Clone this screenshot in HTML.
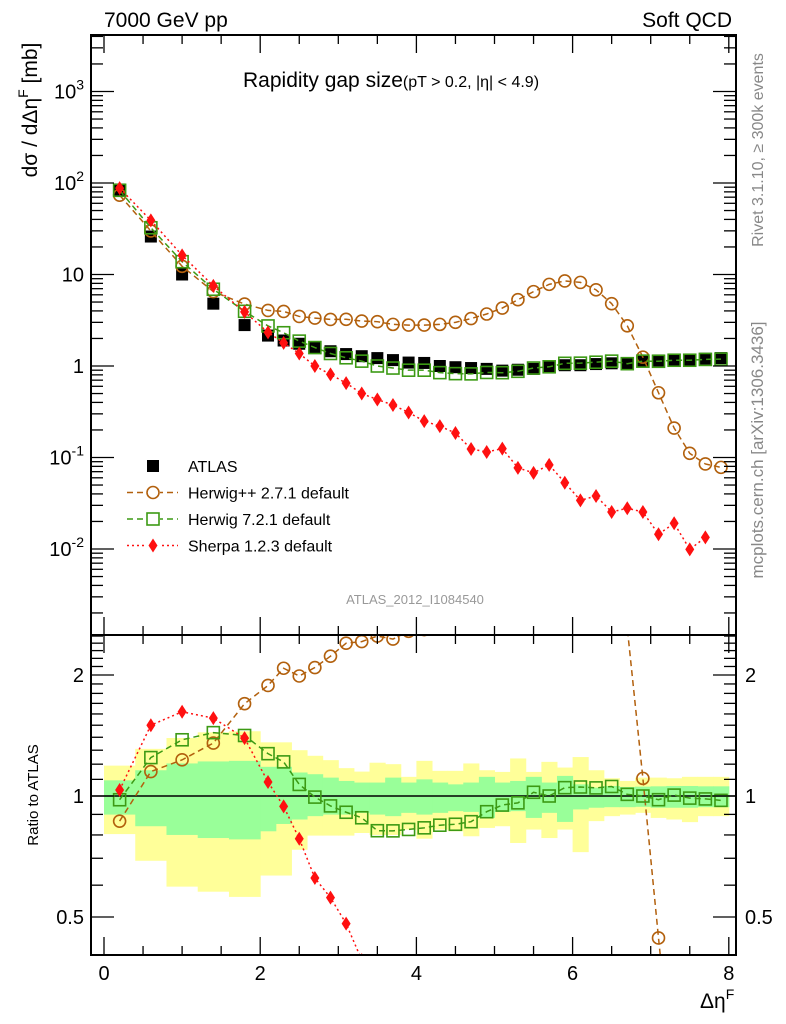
<!DOCTYPE html>
<html><head><meta charset="utf-8"><style>
html,body{margin:0;background:#fff;overflow:hidden;width:786px;height:1024px;}
svg{display:block;font-family:"Liberation Sans",sans-serif;}
</style></head><body>
<svg id="chart" width="786" height="1024" viewBox="0 0 786 1024" xmlns="http://www.w3.org/2000/svg">
<defs>
<clipPath id="clipMain"><rect x="91" y="35" width="645" height="600"/></clipPath>
<clipPath id="clipRatio"><rect x="91" y="635" width="645" height="320"/></clipPath>
</defs>
<g id="bands" clip-path="url(#clipRatio)"></g>
<g id="series"></g>
<g id="axes"></g>
<text x="104" y="27" font-size="21">7000 GeV pp</text>
<text x="732" y="27" font-size="21" text-anchor="end">Soft QCD</text>
<text x="243" y="87" font-size="21">Rapidity gap size<tspan font-size="16">(pT &gt; 0.2, |η| &lt; 4.9)</tspan></text>
<text x="415" y="604" font-size="13" fill="#999" text-anchor="middle">ATLAS_2012_I1084540</text>
<text transform="translate(763,150) rotate(-90)" font-size="16" fill="#888" text-anchor="middle">Rivet 3.1.10, ≥ 300k events</text>
<text transform="translate(763,450) rotate(-90)" font-size="17" fill="#888" text-anchor="middle">mcplots.cern.ch [arXiv:1306.3436]</text>
<text transform="translate(37,110) rotate(-90)" font-size="21" text-anchor="middle">dσ / dΔη<tspan font-size="14" dy="-9">F</tspan><tspan dy="9"> [mb]</tspan></text>
<text transform="translate(38,795) rotate(-90)" font-size="15" text-anchor="middle">Ratio to ATLAS</text>
<text x="700" y="1008" font-size="21">Δη<tspan font-size="14" dy="-9">F</tspan></text>
<g id="legend"></g>
</svg>
<script>
const xs = [0.2,0.6,1.0,1.4,1.8,2.1,2.3,2.5,2.7,2.9,3.1,3.3,3.5,3.7,3.9,4.1,4.3,4.5,4.7,4.9,5.1,5.3,5.5,5.7,5.9,6.1,6.3,6.5,6.7,6.9,7.1,7.3,7.5,7.7,7.9];
const binLo = [0,0.4,0.8,1.2,1.6,2.0,2.2,2.4,2.6,2.8,3.0,3.2,3.4,3.6,3.8,4.0,4.2,4.4,4.6,4.8,5.0,5.2,5.4,5.6,5.8,6.0,6.2,6.4,6.6,6.8,7.0,7.2,7.4,7.6,7.8];
const binHi = [0.4,0.8,1.2,1.6,2.0,2.2,2.4,2.6,2.8,3.0,3.2,3.4,3.6,3.8,4.0,4.2,4.4,4.6,4.8,5.0,5.2,5.4,5.6,5.8,6.0,6.2,6.4,6.6,6.8,7.0,7.2,7.4,7.6,7.8,8.0];
const atlas = [85,26,10,4.8,2.8,2.15,1.9,1.75,1.6,1.45,1.35,1.28,1.22,1.16,1.09,1.08,1.0,0.97,0.95,0.93,0.89,0.91,0.93,0.98,1.02,1.02,1.05,1.07,1.05,1.13,1.15,1.15,1.17,1.2,1.22];
const herwigpp = [73.6,29.9,12.3,6.5,4.75,4.05,3.95,3.48,3.34,3.23,3.24,3.1,3.05,2.85,2.8,2.8,2.85,3.0,3.3,3.7,4.3,5.3,6.5,7.8,8.5,8.2,6.8,4.8,2.75,1.25,0.51,0.21,0.111,0.085,0.078];
const herwig7 = [83.2,32.4,13.8,6.9,3.96,2.74,2.31,1.87,1.59,1.37,1.23,1.13,1.0,0.95,0.9,0.9,0.846,0.825,0.82,0.85,0.845,0.875,0.95,0.98,1.07,1.074,1.1,1.13,1.06,1.13,1.126,1.156,1.156,1.18,1.19];
const sherpa = [88,39,16.2,7.5,3.9,2.33,1.79,1.37,1.0,0.81,0.65,0.5,0.43,0.375,0.31,0.25,0.22,0.185,0.124,0.115,0.125,0.077,0.068,0.083,0.053,0.034,0.038,0.0254,0.0279,0.0254,0.0145,0.0191,0.0099,0.0134,null];
const yelHi = [1.19,1.31,1.394,1.44,1.449,1.36,1.36,1.30,1.259,1.228,1.173,1.15,1.21,1.20,1.116,1.223,1.155,1.155,1.205,1.159,1.148,1.24,1.148,1.216,1.177,1.25,1.159,1.107,1.09,1.111,1.111,1.107,1.116,1.116,1.116];
const yelLo = [0.804,0.69,0.595,0.578,0.561,0.634,0.634,0.735,0.797,0.797,0.797,0.809,0.80,0.80,0.825,0.783,0.825,0.817,0.794,0.833,0.841,0.764,0.825,0.786,0.825,0.725,0.866,0.891,0.899,0.908,0.882,0.874,0.861,0.891,0.891];
const grnHi = [1.094,1.159,1.205,1.219,1.223,1.182,1.182,1.144,1.133,1.111,1.09,1.08,1.08,1.111,1.08,1.10,1.08,1.069,1.08,1.116,1.08,1.09,1.116,1.08,1.122,1.069,1.049,1.059,1.053,1.055,1.057,1.059,1.059,1.057,1.057];
const grnLo = [0.899,0.841,0.80,0.786,0.78,0.817,0.852,0.874,0.891,0.899,0.899,0.908,0.899,0.891,0.908,0.899,0.908,0.917,0.913,0.882,0.913,0.917,0.882,0.908,0.862,0.926,0.935,0.938,0.938,0.94,0.935,0.935,0.935,0.938,0.938];
const xTickLabels = ["0","2","4","6","8"];
const yTickLabels = ["10^-2","10^-1","1","10","10^2","10^3"];
const ratioTickLabels = ["0.5","1","2"];

const NS="http://www.w3.org/2000/svg";
const X0=91,X1=736,YT=35,YM=635,YB=955;
function xp(v){return 104+78.1*v;}
function yMain(v){return 366-91.5*Math.log10(v);}
function yRat(r){return 796-121*Math.log2(r);}
function mk(tag,attrs,parent){const e=document.createElementNS(NS,tag);for(const k in attrs)e.setAttribute(k,attrs[k]);parent.appendChild(e);return e;}
const bandsG=document.getElementById('bands'),seriesG=document.getElementById('series'),axesG=document.getElementById('axes'),legG=document.getElementById('legend');

xs.forEach((x,i)=>{
  const y1=mk('rect',{x:xp(binLo[i]),y:yRat(yelHi[i]),width:xp(binHi[i])-xp(binLo[i])+0.5,height:yRat(yelLo[i])-yRat(yelHi[i]),fill:'#ffff99'},bandsG);
  
  
});
xs.forEach((x,i)=>{
  const g1=mk('rect',{x:xp(binLo[i]),y:yRat(grnHi[i]),width:xp(binHi[i])-xp(binLo[i])+0.5,height:yRat(grnLo[i])-yRat(grnHi[i]),fill:'#99ff99'},bandsG);
  
  
});
const one=mk('line',{x1:X0,x2:X1,y1:yRat(1),y2:yRat(1),stroke:'#000','stroke-width':1.5},bandsG);



function marker(g,type,cx,cy,color){
  let e;
  if(type==='circle')e=mk('circle',{cx:cx,cy:cy,r:6,fill:'none',stroke:color,'stroke-width':1.6},g);
  else if(type==='osq')e=mk('rect',{x:cx-6,y:cy-6,width:12,height:12,fill:'none',stroke:color,'stroke-width':1.6},g);
  else if(type==='diam')e=mk('polygon',{points:`${cx},${cy-7} ${cx+4.5},${cy} ${cx},${cy+7} ${cx-4.5},${cy}`,fill:color},g);
  else e=mk('rect',{x:cx-6,y:cy-6,width:12,height:12,fill:color},g);
  return e;
}
function drawSeries(name,vals,color,dash,type,ratioOnly){
  const gm=mk('g',{'clip-path':'url(#clipMain)'},seriesG);
  
  
  const gr=mk('g',{'clip-path':'url(#clipRatio)'},seriesG);
  
  
  const pm=[],pr=[];
  xs.forEach((x,i)=>{if(vals[i]!=null){pm.push([xp(x),yMain(vals[i])]);pr.push([xp(x),yRat(vals[i]/atlas[i])]);}});
  if(dash){
    const l1=mk('polyline',{points:pm.map(p=>p.join(',')).join(' '),fill:'none',stroke:color,'stroke-width':1.5,'stroke-dasharray':dash},gm);
    
    
    const l2=mk('polyline',{points:pr.map(p=>p.join(',')).join(' '),fill:'none',stroke:color,'stroke-width':1.5,'stroke-dasharray':dash},gr);
    
    
  }
  pm.forEach(p=>{const m=marker(gm,type,p[0],p[1],color);
    
    });
  if(!ratioOnly)pr.forEach(p=>{const m=marker(gr,type,p[0],p[1],color);
    
    });
}
drawSeries('atlas',atlas,'#000',null,'fsq',true);
drawSeries('herwigpp',herwigpp,'#b2600d','6,4','circle');
drawSeries('herwig7',herwig7,'#3c9a14','6,4','osq');
drawSeries('sherpa',sherpa,'#ff1010','2,3','diam');

[[YT,YM],[YM,YB]].forEach(([a,b])=>{
  const f=mk('rect',{x:X0,y:a,width:X1-X0,height:b-a,fill:'none',stroke:'#000','stroke-width':2},axesG);
  
  
});
function tick(x1,y1,x2,y2){const t=mk('line',{x1,y1,x2,y2,stroke:'#000','stroke-width':1.3},axesG);
  
  }
for(let v=0;v<=8.01;v+=0.5){
  const L=(Math.abs(v%2)<0.01)?18:9,x=xp(v);
  tick(x,YT,x,YT+L);tick(x,YM,x,YM-L);tick(x,YM,x,YM+L);tick(x,YB,x,YB-L);
}
xTickLabels.forEach(s=>{const t=mk('text',{x:xp(+s),y:980,'font-size':20,'text-anchor':'middle'},axesG);t.textContent=s;
  
  });
for(let e=-3;e<=3;e++){for(let m=1;m<=9;m++){const v=m*Math.pow(10,e),y=yMain(v);
  if(y<YT||y>YM)continue;const L=m===1?23:12;tick(X0,y,X0+L,y);tick(X1,y,X1-L,y);}}
yTickLabels.forEach(s=>{const parts=s.split('^');const v=parts.length>1?Math.pow(10,+parts[1]):+s;const y=yMain(v)+7;
  const t=mk('text',{x:84,y:y,'font-size':20,'text-anchor':'end'},axesG);
  
  
  if(parts.length>1){t.appendChild(document.createTextNode(parts[0]));const sp=mk('tspan',{'font-size':14,dy:-9},t);sp.textContent=parts[1];}
  else t.textContent=s;});
for(let r=0.4;r<=2.55;r+=0.1){const rr=Math.round(r*10)/10,y=yRat(rr);if(y<YM||y>YB)continue;
  const L=(rr===0.5||rr===1||rr===2)?23:12;tick(X0,y,X0+L,y);tick(X1,y,X1-L,y);}
ratioTickLabels.forEach(s=>{const y=yRat(+s)+7;
  const t=mk('text',{x:84,y:y,'font-size':20,'text-anchor':'end'},axesG);t.textContent=s;
  
  
  const t2=mk('text',{x:745,y:y,'font-size':20},axesG);t2.textContent=s;
  
  });
const leg=[['ATLAS','#000',null,'fsq'],['Herwig++ 2.7.1 default','#b2600d','6,4','circle'],['Herwig 7.2.1 default','#3c9a14','6,4','osq'],['Sherpa 1.2.3 default','#ff1010','2,3','diam']];
leg.forEach((l,i)=>{const y=466+i*26.5;
  const g=mk('g',{},legG);
  
  
  if(l[2])mk('line',{x1:127,x2:178,y1:y,y2:y,stroke:l[1],'stroke-width':1.5,'stroke-dasharray':l[2]},g);
  if(l[3]!=='fsq')mk('rect',{x:146,y:y-7,width:14,height:14,fill:'#fff'},g);
  marker(g,l[3],153,y,l[1]);
  const t=mk('text',{x:188,y:y+6,'font-size':16},g);t.textContent=l[0];});
</script>
</body></html>
